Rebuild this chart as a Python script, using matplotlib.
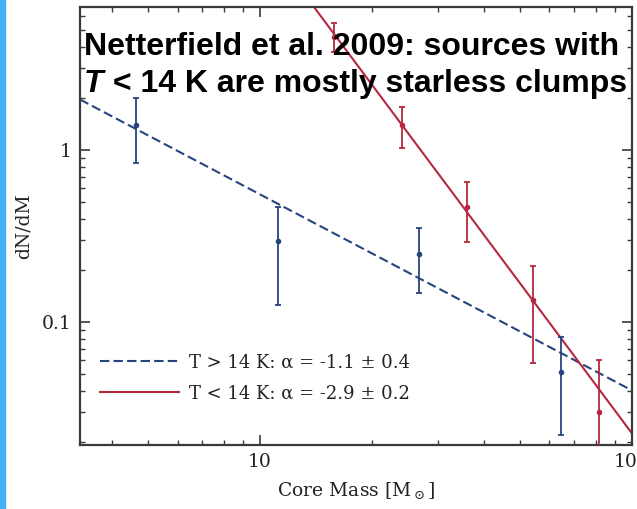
import matplotlib
matplotlib.use("Agg")
import matplotlib.pyplot as plt
import matplotlib.ticker as ticker
import numpy as np

# clump mass function
warm_mass = [4.64, 11.2, 26.7, 64.4]
warm_dndm = [1.40, 0.296, 0.248, 0.0513]
warm_low = [0.84, 0.126, 0.147, 0.022]
warm_high = [2.0, 0.47, 0.352, 0.0818]

cold_mass = [15.8, 24.1, 36.0, 54.2, 81.5]
cold_dndm = [4.54, 1.40, 0.466, 0.134, 0.030]
cold_low = [3.71, 1.03, 0.292, 0.0578, 0.015]
cold_high = [5.47, 1.78, 0.65, 0.212, 0.060]

# power-law fits: (dN/dM at M = 10, slope)
warm_fit = (0.553, -1.14)
cold_fit = (17.9, -2.9)

warm_label = 'T > 14 K: α = -1.1 ± 0.4'
cold_label = 'T < 14 K: α = -2.9 ± 0.2'

xlim = (3.28, 100)
ylim = (0.0193, 6.8)

blue = '#27447E'
red = '#B5283F'
spine = '#3a3a3a'

plt.rcParams['font.family'] = 'DejaVu Serif'
plt.rcParams['mathtext.fontset'] = 'dejavuserif'

fig = plt.figure(figsize=(6.37, 5.09), dpi=100)
ax = fig.add_axes([80 / 637, 64 / 509, 552 / 637, 438 / 509])

ends = np.array(xlim)
ax.plot(ends, warm_fit[0] * (ends / 10) ** warm_fit[1], color=blue, lw=1.5,
        dashes=(4.5, 2), label=warm_label, zorder=2)
ax.plot(ends, cold_fit[0] * (ends / 10) ** cold_fit[1], color=red, lw=1.5,
        label=cold_label, zorder=2)

def add_points(mass, val, lo, hi, color):
    val = np.array(val)
    yerr = [val - np.array(lo), np.array(hi) - val]
    ax.errorbar(mass, val, yerr=yerr, fmt='o', ms=3, color=color, ecolor=color,
                elinewidth=1.3, capsize=2.5, capthick=1.3, zorder=3)

add_points(warm_mass, warm_dndm, warm_low, warm_high, blue)
add_points(cold_mass, cold_dndm, cold_low, cold_high, red)

ax.set_xscale('log')
ax.set_yscale('log')
ax.set_xlim(*xlim)
ax.set_ylim(*ylim)

fmt = ticker.FuncFormatter(lambda v, p: '%g' % v)
ax.xaxis.set_major_formatter(fmt)
ax.yaxis.set_major_formatter(fmt)
ax.xaxis.set_minor_formatter(ticker.NullFormatter())
ax.yaxis.set_minor_formatter(ticker.NullFormatter())

ax.tick_params(which='both', direction='in', top=True, right=True,
               color=spine, labelsize=13.5, labelcolor='#222222')
ax.tick_params(which='major', length=7, width=1.2, pad=6)
ax.tick_params(which='minor', length=3.5, width=1.0)
for s in ax.spines.values():
    s.set_color(spine)
    s.set_linewidth(1.6)

ax.set_xlabel(r'Core Mass [M$_\odot$]', fontsize=13.5, color='#222222')
ax.set_ylabel('dN/dM', fontsize=13.5, color='#222222')
ax.xaxis.set_label_coords(0.5, -0.08)
ax.yaxis.set_label_coords(-0.085, 0.5)

ax.legend(loc='center left', bbox_to_anchor=(0.036, 0.153), frameon=False,
          fontsize=13, handlelength=4.4, handletextpad=0.55, borderpad=0,
          borderaxespad=0, labelspacing=0.72, labelcolor='#222222')

# left slide stripe
fig.patches.append(plt.Rectangle((0, 0), 5 / 637, 1, transform=fig.transFigure,
                                 color='#45B0F8', zorder=0))

# overlay caption
cap = dict(fontsize=23, fontweight='bold', family='Liberation Sans', color='black')
fig.text(84 / 637, 1 - 55 / 509, 'Netterfield et al. 2009: sources with',
         va='baseline', ha='left', **cap)
t = fig.text(84 / 637, 1 - 92 / 509, 'T', va='baseline', ha='left',
             style='italic', **cap)
ax.annotate(' < 14 K are mostly starless clumps', xy=(1, 0), xycoords=t,
            va='bottom', ha='left', annotation_clip=False, **cap)

fig.savefig('out.png', dpi=100)
